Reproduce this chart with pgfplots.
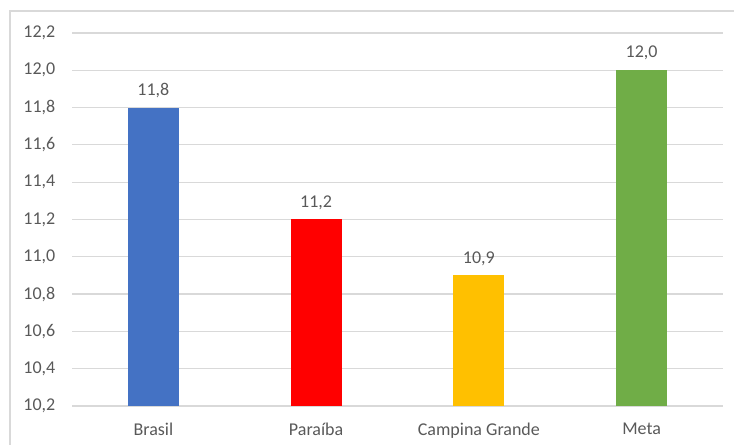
\documentclass[border=0pt]{standalone}
\usepackage{pgfplots}
\pgfplotsset{compat=1.18}
\usepackage{fontspec}
\setmainfont{Carlito}
\definecolor{gridgray}{HTML}{D9D9D9}
\definecolor{txtgray}{HTML}{595959}
\definecolor{cblue}{HTML}{4472C4}
\definecolor{cred}{HTML}{FF0000}
\definecolor{corange}{HTML}{FFC000}
\definecolor{cgreen}{HTML}{70AD47}
\tikzset{
  commafmt/.style={
    /pgf/number format/fixed,
    /pgf/number format/fixed zerofill,
    /pgf/number format/precision=1,
    /pgf/number format/use comma,
    /pgf/number format/assume math mode=true,
  },
}
\begin{document}
\begin{tikzpicture}[x=0.75pt,y=0.75pt]
\useasboundingbox (0,0) rectangle (734,445);
% chart frame
\draw[gridgray, line width=1pt] (10,0) -- (10,434) -- (734,434);
\begin{axis}[
  at={(72*0.75pt,39*0.75pt)}, anchor=south west,
  scale only axis,
  width=651*0.75pt, height=373*0.75pt,
  xmin=-0.5, xmax=3.5,
  ymin=10.2, ymax=12.2,
  ytick={10.2,10.4,...,12.21},
  xtick={0,1,2,3},
  xticklabels={Brasil,Paraíba,Campina Grande,Meta},
  axis line style={draw=none},
  major tick style={draw=none},
  ymajorgrids,
  grid style={gridgray, line width=0.9pt},
  font=\fontsize{13.5}{15}\selectfont,
  tick label style={txtgray},
  xticklabel style={yshift=-5pt},
  yticklabel style={xshift=-9pt, commafmt},
  ybar, bar width=51*0.75pt, bar shift=0pt,
  nodes near coords,
  nodes near coords style={txtgray, font=\fontsize{13.5}{15}\selectfont, commafmt, yshift=4pt},
  clip=false,
]
\addplot[fill=cblue, draw=none] coordinates {(0,11.8)};
\addplot[fill=cred, draw=none] coordinates {(1,11.2)};
\addplot[fill=corange, draw=none] coordinates {(2,10.9)};
\addplot[fill=cgreen, draw=none] coordinates {(3,12.0)};
\end{axis}
\end{tikzpicture}
\end{document}
